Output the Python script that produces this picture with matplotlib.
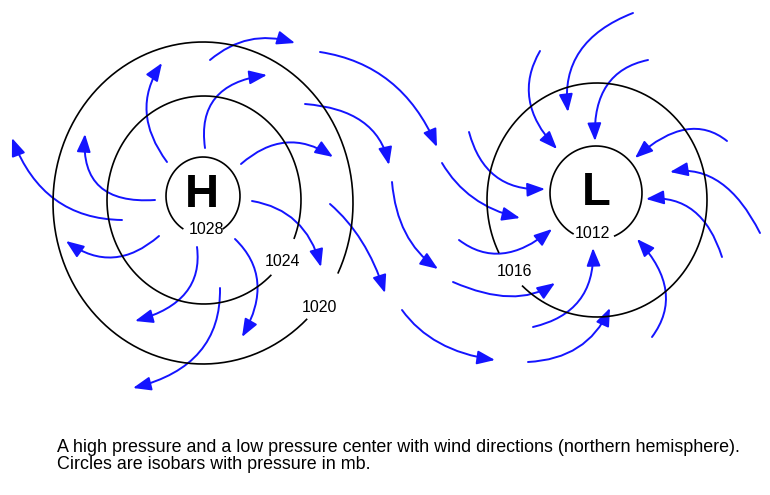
import numpy as np
import matplotlib
matplotlib.use('Agg')
import matplotlib.pyplot as plt
from matplotlib.path import Path
from matplotlib.patches import FancyArrowPatch

## DATA (pixel coordinates of the picture, y downwards)

# pressure centres
centre_names = ['H', 'L']
centre_xy = [(202, 195), (596, 193)]

# isobars: label, centre x, centre y, radius x, radius y, gap start/end (deg), label position
isobar_labels = ['1028', '1024', '1020', '1012', '1016']
isobar_cx = [203, 204, 203, 596, 597]
isobar_cy = [196, 200, 203, 193, 200]
isobar_rx = [37, 97, 150, 46, 110]
isobar_ry = [39, 104, 161, 47, 117]
isobar_gap = [(58, 122), (22, 46), (26, 46), (67, 119), (133, 153)]
label_xy = [(206, 229), (282, 262), (319, 307), (592, 233), (514, 272)]

# wind arrows: start, middle point, end (arrow head)
arrow_start = [
    # outflow from H
    (210, 60), (167, 162), (205, 148), (241, 164), (252, 201), (235, 239),
    (220, 288), (197, 247), (159, 236), (122, 220), (155, 200),
    # between the two centres
    (320, 52), (305, 104), (442, 163), (330, 204), (392, 182), (453, 282), (402, 310),
    # inflow to L
    (633, 13), (540, 51), (648, 60), (727, 141), (760, 233), (722, 257),
    (652, 337), (528, 362), (533, 327), (459, 240), (469, 132),
]
arrow_mid = [
    (250, 40), (147, 112), (216, 98), (286, 143), (296, 222), (257, 283),
    (199, 352), (185, 293), (113, 257), (55, 199), (100, 186),
    (390, 82), (362, 122), (474, 198), (362, 242), (406, 233), (510, 296), (440, 343),
    (580, 52), (530, 100), (607, 86), (685, 130), (720, 183), (693, 211),
    (665, 290), (578, 347), (579, 300), (503, 253), (496, 176),
]
arrow_end = [
    (295, 43), (162, 63), (267, 75), (333, 157), (321, 267), (242, 337),
    (133, 388), (135, 321), (66, 241), (12, 138), (85, 134),
    (437, 147), (389, 165), (520, 218), (385, 293), (438, 269), (555, 283), (495, 360),
    (568, 112), (557, 149), (595, 141), (635, 158), (670, 172), (646, 199),
    (637, 239), (610, 308), (593, 248), (552, 229), (545, 189),
]

caption = ('A high pressure and a low pressure center with wind directions (northern hemisphere).\n'
           'Circles are isobars with pressure in mb.')

W, H = 770, 495
BLUE = '#1414ff'

fig = plt.figure(figsize=(W / 100, H / 100), dpi=100)
ax = fig.add_axes([0, 0, 1, 1])
ax.set_xlim(0, W)
ax.set_ylim(H, 0)
ax.axis('off')

plt.rcParams['font.family'] = ['Liberation Sans', 'DejaVu Sans']

# isobars with a gap for the label
for i in range(len(isobar_labels)):
    g0, g1 = isobar_gap[i]
    t = np.radians(np.linspace(g1, g0 + 360, 400))
    x = isobar_cx[i] + isobar_rx[i] * np.cos(t)
    y = isobar_cy[i] + isobar_ry[i] * np.sin(t)
    ax.plot(x, y, color='black', lw=1.2, solid_capstyle='butt')
    ax.text(label_xy[i][0], label_xy[i][1], isobar_labels[i], ha='center', va='center',
            fontsize=11.5, color='black')

for name, (cx, cy) in zip(centre_names, centre_xy):
    ax.text(cx, cy, name, ha='center', va='center', fontsize=34, fontweight='bold')

# curved wind arrows (quadratic curve through the middle point)
for p0, pm, p1 in zip(arrow_start, arrow_mid, arrow_end):
    p0, pm, p1 = np.array(p0, float), np.array(pm, float), np.array(p1, float)
    ctrl = 2 * pm - (p0 + p1) / 2
    path = Path([p0, ctrl, p1], [Path.MOVETO, Path.CURVE3, Path.CURVE3])
    arr = FancyArrowPatch(path=path, arrowstyle='-|>,head_length=0.9,head_width=0.35',
                          mutation_scale=12, color=BLUE, lw=1.4, shrinkA=0, shrinkB=0)
    ax.add_patch(arr)

ax.text(57, 456, caption, ha='left', va='center', fontsize=12.9, linespacing=1.05,
        color='black')

fig.savefig('out.png', dpi=100, facecolor='white')
